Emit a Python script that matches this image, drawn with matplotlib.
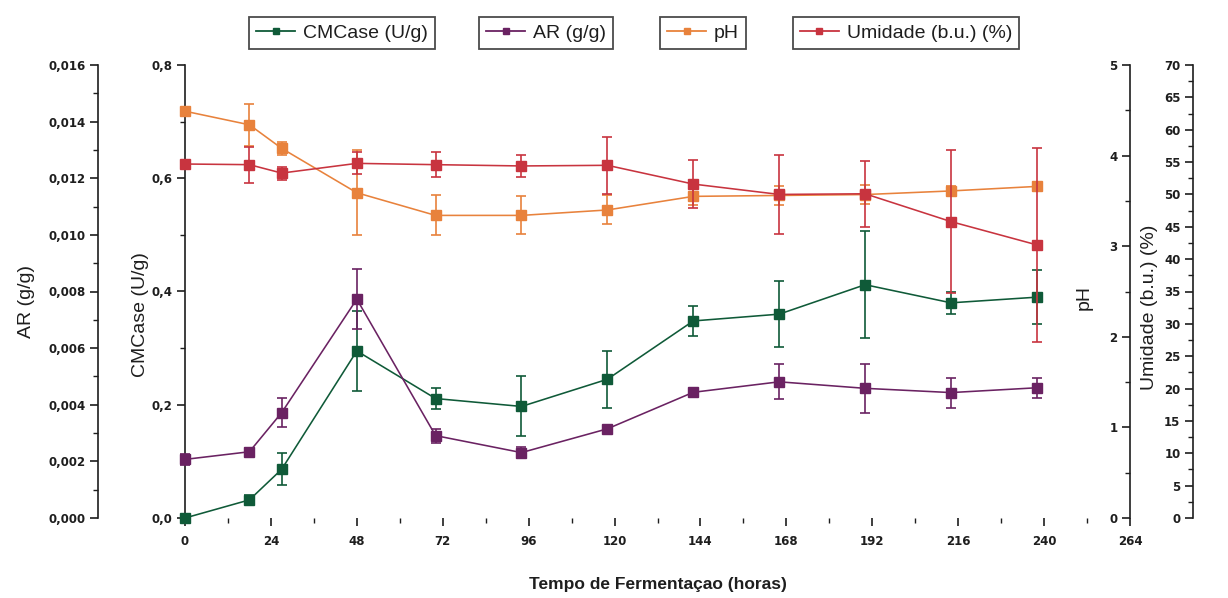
import numpy as np
import matplotlib
matplotlib.use('Agg')
import matplotlib.pyplot as plt
from matplotlib.lines import Line2D
from matplotlib.ticker import MultipleLocator, FuncFormatter

# tempo de fermentacao (horas)
time = [0, 18, 27, 48, 70, 94, 118, 142, 166, 190, 214, 238]

# CMCase (U/g)
cmcase = [0.0, 0.032, 0.086, 0.295, 0.211, 0.197, 0.245, 0.348, 0.360, 0.412, 0.380, 0.390]
cmcase_err = [0.003, 0.008, 0.028, 0.071, 0.018, 0.053, 0.050, 0.027, 0.058, 0.095, 0.020, 0.048]

# AR (g/g)
ar = [0.00207, 0.00234, 0.00372, 0.00773, 0.00291, 0.00231, 0.00315, 0.00444, 0.00481, 0.00458, 0.00443, 0.00460]
ar_err = [0.00020, 0.00015, 0.00052, 0.00106, 0.00025, 0.00020, 0.00010, 0.00010, 0.00062, 0.00087, 0.00053, 0.00035]

# pH
ph = [4.49, 4.34, 4.08, 3.59, 3.34, 3.34, 3.40, 3.55, 3.56, 3.57, 3.61, 3.66]
ph_err = [0.02, 0.23, 0.07, 0.47, 0.22, 0.21, 0.16, 0.09, 0.10, 0.10, 0.05, 0.05]

# Umidade (b.u.) (%)
umidade = [54.7, 54.6, 53.3, 54.8, 54.6, 54.4, 54.5, 51.6, 50.0, 50.1, 45.8, 42.2]
umidade_err = [0.3, 2.8, 1.0, 1.7, 1.9, 1.7, 4.4, 3.7, 6.1, 5.1, 11.0, 15.0]

x_ticks = [0, 24, 48, 72, 96, 120, 144, 168, 192, 216, 240, 264]
labels = ['CMCase (U/g)', 'AR (g/g)', 'pH', 'Umidade (b.u.) (%)']

c_green = '#0f5a38'
c_purple = '#6a2262'
c_orange = '#e8823c'
c_red = '#c8343f'
c_text = '#1e1e1e'

tick_font = dict(family='DejaVu Sans', weight='bold', size=8.5)
label_font = dict(family='Liberation Sans', size=14)

W, H = 1228, 598
fig = plt.figure(figsize=(W / 100, H / 100), dpi=100)
ax = fig.add_axes([185 / W, 1 - 518 / H, 945 / W, 453 / H])
ax_ar = ax.twinx()
ax_ph = ax.twinx()
ax_um = ax.twinx()


def comma(dec):
    return FuncFormatter(lambda v, p: ('%.*f' % (dec, v)).replace('.', ','))


def style_left(a, pos, lim, major, minor, dec):
    for s in ['top', 'right', 'bottom']:
        a.spines[s].set_visible(False)
    a.spines['left'].set_visible(True)
    a.spines['left'].set_position(('axes', pos))
    a.spines['left'].set_linewidth(1.2)
    a.spines['left'].set_color(c_text)
    a.yaxis.tick_left()
    a.yaxis.set_label_position('left')
    a.set_ylim(*lim)
    a.yaxis.set_major_locator(MultipleLocator(major))
    a.yaxis.set_minor_locator(MultipleLocator(minor))
    a.yaxis.set_major_formatter(comma(dec))
    a.tick_params(axis='y', which='major', direction='out', length=6, width=1.2, pad=3, colors=c_text)
    a.tick_params(axis='y', which='minor', direction='out', length=3.5, width=1.0, colors=c_text)
    for t in a.get_yticklabels():
        t.set_fontproperties(matplotlib.font_manager.FontProperties(**tick_font))


style_left(ax, 0.0, (0, 0.8), 0.2, 0.1, 1)
style_left(ax_ar, -0.092, (0, 0.016), 0.002, 0.001, 3)
style_left(ax_ph, 1.0, (0, 5), 1, 0.5, 0)
style_left(ax_um, 1.0667, (0, 70), 5, 2.5, 0)

ax.spines['bottom'].set_linewidth(1.2)
ax.spines['bottom'].set_color(c_text)
ax.set_xlim(0, 264)
ax.set_xticks(x_ticks)
ax.xaxis.set_minor_locator(MultipleLocator(12))
ax.tick_params(axis='x', which='major', direction='out', length=6, width=1.2, pad=6, colors=c_text)
ax.tick_params(axis='x', which='minor', direction='out', length=3.5, width=1.0, colors=c_text)
ax.set_xticklabels([str(v) for v in x_ticks], fontdict=tick_font)

ebkw = dict(fmt='-s', ms=6.5, lw=1.15, elinewidth=1.2, capsize=3.5, capthick=1.2, clip_on=False)
ax.errorbar(time, cmcase, yerr=cmcase_err, color=c_green, zorder=3, **ebkw)
ax_ar.errorbar(time, ar, yerr=ar_err, color=c_purple, zorder=3, **ebkw)
ax_ph.errorbar(time, ph, yerr=ph_err, color=c_orange, zorder=3, **ebkw)
ax_um.errorbar(time, umidade, yerr=umidade_err, color=c_red, zorder=3, **ebkw)

ax_ar.set_ylabel('AR (g/g)', **label_font, color=c_text)
ax_ar.yaxis.set_label_coords(-0.159, 0.477)
ax.set_ylabel('CMCase (U/g)', **label_font, color=c_text)
ax.yaxis.set_label_coords(-0.038, 0.45)
ax_ph.set_ylabel('pH', **label_font, color=c_text)
ax_ph.yaxis.set_label_coords(0.960, 0.486)
ax_um.set_ylabel('Umidade (b.u.) (%)', **label_font, color=c_text)
ax_um.yaxis.set_label_coords(1.030, 0.466)

ax.set_xlabel('Tempo de Fermentaçao (horas)', family='Liberation Sans', weight='bold',
              size=12.5, color=c_text)
ax.xaxis.set_label_coords(0.5, -0.13)

# four separate boxed legends along the top
centers = [342, 546, 703, 906]
for lab, col, cx in zip(labels, [c_green, c_purple, c_orange, c_red], centers):
    h = Line2D([], [], color=col, marker='s', ms=5, lw=1.3)
    lg = fig.legend([h], [lab], loc='center', bbox_to_anchor=(cx / W, 1 - 33 / H),
                    frameon=True, fancybox=False, handlelength=2.0, handletextpad=0.4,
                    borderpad=0.35, prop=dict(family='Liberation Sans', size=14))
    lg.get_frame().set_edgecolor(c_text)
    lg.get_frame().set_linewidth(1.3)
    for t in lg.get_texts():
        t.set_color(c_text)

fig.savefig('out.png', dpi=100)
